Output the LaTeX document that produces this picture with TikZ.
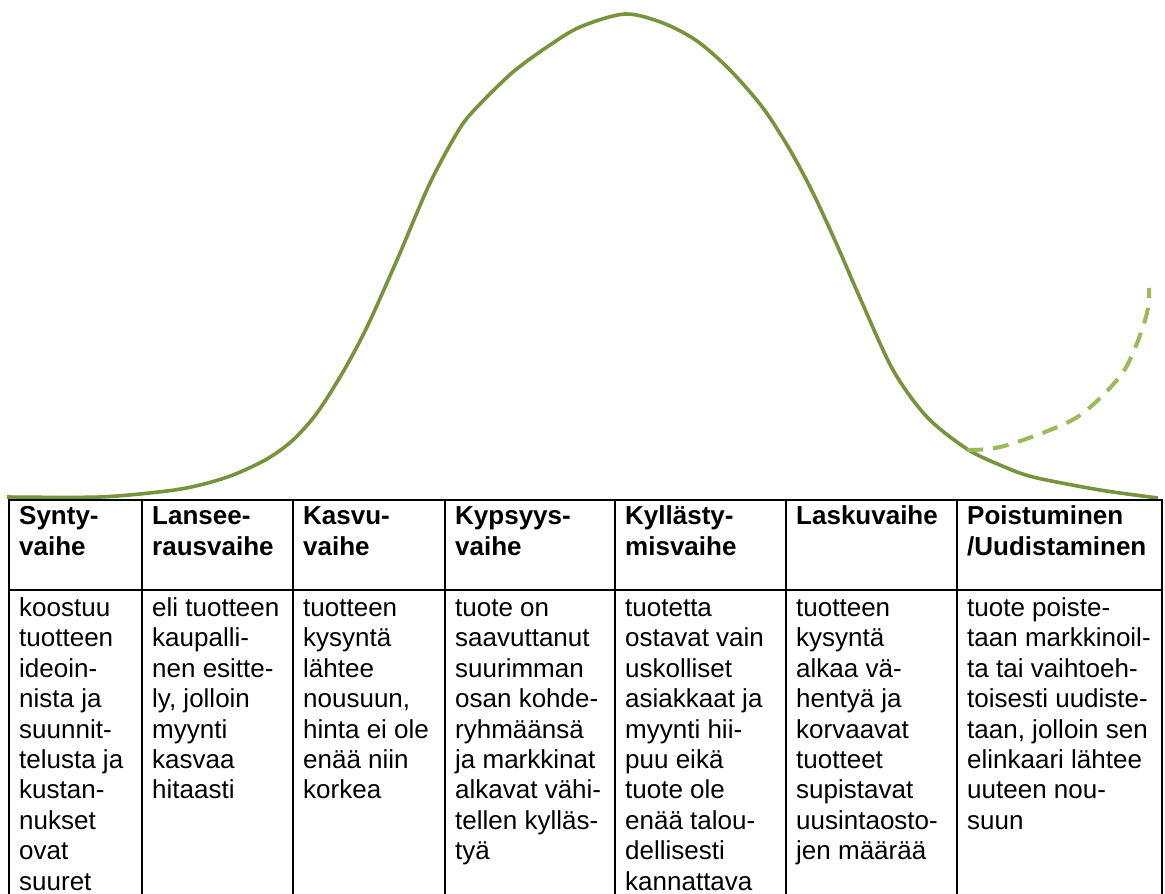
\documentclass[tikz,border=0pt]{standalone}
\usepackage{fontspec}
\setmainfont{Liberation Sans}
\definecolor{curvegreen}{HTML}{77933C}
\definecolor{dashgreen}{HTML}{9BBB59}
\newcommand\celltext[1]{\parbox[t]{200pt}{\raggedright #1}}
\begin{document}
\begin{tikzpicture}[x=1pt,y=-1pt,
  gridline/.style={line width=2.6pt, black, line cap=rect},
  mainline/.style={line width=3.6pt, curvegreen},
  dashline/.style={line width=4pt, dashgreen, dash pattern=on 16pt off 10pt},
  headcell/.style={anchor=base west, inner sep=0pt, font=\fontsize{26}{31}\selectfont\bfseries},
  bodycell/.style={anchor=base west, inner sep=0pt, font=\fontsize{26}{30.4}\selectfont}]
\clip (0,0) rectangle (1165,894);
\fill[white] (0,0) rectangle (1165,894);

% curve
\draw[mainline] plot[smooth, tension=0.5] coordinates {(7,497) (100,497) (167,491) (200,485) (233,475) (267,459) (293,440) (317,413) (343,372) (367,327) (397,260) (430,183) (460,128) (480,104) (513,72) (547,47) (580,27) (625,14) (663,23) (697,41) (730,70) (763,108) (790,150) (813,193) (837,245) (860,298) (893,370) (927,417) (967,449) (1000,465) (1033,477) (1100,490) (1158,498)};
\coordinate (split) at (967,450);
\draw[dashline] plot[smooth, tension=0.6] coordinates {(split) (1000,447) (1050,430) (1083,413) (1117,380) (1133,353) (1147,313) (1149,288)};

% table grid
\coordinate (tl) at (9,500);
\coordinate (tr) at (1162,500);
\coordinate (ml) at (9,590);
\coordinate (mr) at (1162,590);
\draw[gridline] (tl) -- (tr);
\draw[gridline] (ml) -- (mr);
\foreach \xx in {9,142,293,445,615,786,957,1162}{
  \draw[gridline] (\xx,500) -- (\xx,900);
}

% header row
\node[headcell] (h1) at (19,524.5) {\celltext{Synty-\\vaihe}};
\node[headcell] (h2) at (152,524.5) {\celltext{Lansee-\\rausvaihe}};
\node[headcell] (h3) at (303,524.5) {\celltext{Kasvu-\\vaihe}};
\node[headcell] (h4) at (455,524.5) {\celltext{Kypsyys-\\vaihe}};
\node[headcell] (h5) at (625,524.5) {\celltext{Kyllästy-\\misvaihe}};
\node[headcell] (h6) at (796,524.5) {\celltext{Laskuvaihe}};
\node[headcell] (h7) at (967,524.5) {\celltext{Poistuminen\\/Uudistaminen}};

% body row
\node[bodycell] (b1) at (19,616.5) {\celltext{koostuu\\tuotteen\\ideoin-\\nista ja\\suunnit-\\telusta ja\\kustan-\\nukset\\ovat\\suuret}};
\node[bodycell] (b2) at (152,616.5) {\celltext{eli tuotteen\\kaupalli-\\nen esitte-\\ly, jolloin\\myynti\\kasvaa\\hitaasti}};
\node[bodycell] (b3) at (303,616.5) {\celltext{tuotteen\\kysyntä\\lähtee\\nousuun,\\hinta ei ole\\enää niin\\korkea}};
\node[bodycell] (b4) at (455,616.5) {\celltext{tuote on\\saavuttanut\\suurimman\\osan kohde-\\ryhmäänsä\\ja markkinat\\alkavat vähi-\\tellen kylläs-\\tyä}};
\node[bodycell] (b5) at (625,616.5) {\celltext{tuotetta\\ostavat vain\\uskolliset\\asiakkaat ja\\myynti hii-\\puu eikä\\tuote ole\\enää talou-\\dellisesti\\kannattava}};
\node[bodycell] (b6) at (796,616.5) {\celltext{tuotteen\\kysyntä\\alkaa vä-\\hentyä ja\\korvaavat\\tuotteet\\supistavat\\uusintaosto-\\jen määrää}};
\node[bodycell] (b7) at (967,616.5) {\celltext{tuote poiste-\\taan markkinoil-\\ta tai vaihtoeh-\\toisesti uudiste-\\taan, jolloin sen\\elinkaari lähtee\\uuteen nou-\\suun}};
\end{tikzpicture}
\end{document}
